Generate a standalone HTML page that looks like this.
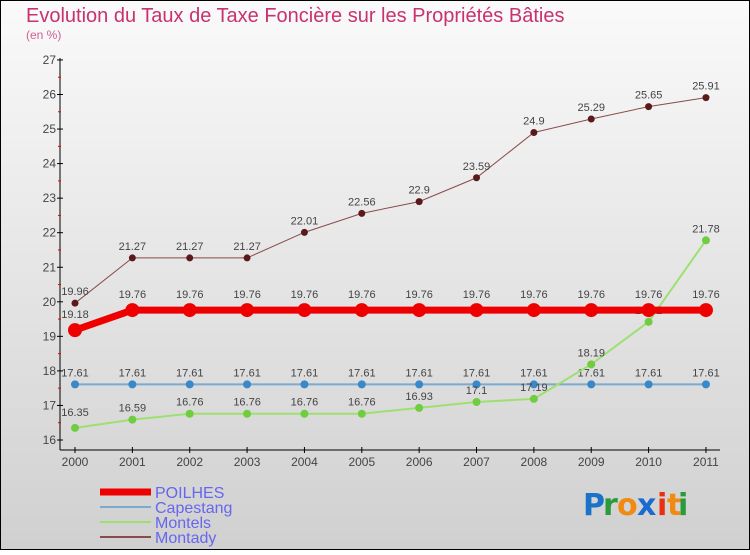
<!DOCTYPE html>
<html><head><meta charset="utf-8"><style>
body{margin:0;width:750px;height:550px;overflow:hidden;font-family:"Liberation Sans",sans-serif}
</style></head><body>
<svg id="c" width="750" height="550" xmlns="http://www.w3.org/2000/svg">
<defs><linearGradient id="bg" x1="0" y1="0" x2="0" y2="1"><stop offset="0" stop-color="#fafafa"/><stop offset="1" stop-color="#d0d0d0"/></linearGradient></defs>
<rect x="0.5" y="0.5" width="749" height="549" fill="url(#bg)" stroke="#000"/>
<text x="26" y="22" font-size="20" fill="#c8326e">Evolution du Taux de Taxe Foncière sur les Propriétés Bâties</text>
<text x="26" y="39" font-size="12" fill="#d06090">(en %)</text>
<g id="axes"></g><g id="series"></g><g id="legend"></g>
<g font-size="30" font-family="'DejaVu Sans',sans-serif" font-weight="bold">
<text x="583" y="515" fill="#1a73c8">P</text><text x="603" y="515" fill="#2a9a3a">r</text><text x="617" y="515" fill="#f08a10">o</text><text x="637" y="515" fill="#1a6ad0">x</text><text x="657" y="515" fill="#e83010">i</text><text x="667" y="515" fill="#f08a10">t</text><text x="678" y="515" fill="#2a9a3a">i</text>
</g>
</svg>
<script>
const years=[2000,2001,2002,2003,2004,2005,2006,2007,2008,2009,2010,2011];
const poilhes=[19.18,19.76,19.76,19.76,19.76,19.76,19.76,19.76,19.76,19.76,19.76,19.76];
const capestang=[17.61,17.61,17.61,17.61,17.61,17.61,17.61,17.61,17.61,17.61,17.61,17.61];
const montels=[16.35,16.59,16.76,16.76,16.76,16.76,16.93,17.1,17.19,18.19,19.42,21.78];
const montady=[19.96,21.27,21.27,21.27,22.01,22.56,22.9,23.59,24.9,25.29,25.65,25.91];
const yTicks=[16,17,18,19,20,21,22,23,24,25,26,27];
const NS="http://www.w3.org/2000/svg";
const X=i=>75+i*57.36, Y=v=>440-(v-16)*34.55;
function mk(p,t,a){const e=document.createElementNS(NS,t);for(const k in a)e.setAttribute(k,a[k]);p.appendChild(e);return e;}
const ax=document.getElementById('axes');
let l=mk(ax,'line',{x1:60,y1:58,x2:60,y2:450,stroke:'#000'});

l=mk(ax,'line',{x1:60,y1:450,x2:720,y2:450,stroke:'#000'});

yTicks.forEach((v,i)=>{mk(ax,'line',{x1:57,y1:Y(v),x2:63,y2:Y(v),stroke:'#000'});
 if(i<yTicks.length-1)mk(ax,'line',{x1:58,y1:Y(v+0.5),x2:61,y2:Y(v+0.5),stroke:'#e00'});
 const t=mk(ax,'text',{x:56,y:Y(v)+4,'text-anchor':'end','font-size':12,fill:'#444'});t.textContent=v;
 });
years.forEach((y,i)=>{mk(ax,'line',{x1:X(i),y1:447,x2:X(i),y2:453,stroke:'#000'});
 const t=mk(ax,'text',{x:X(i),y:466,'text-anchor':'middle','font-size':12,fill:'#444'});t.textContent=y;
 });
const sg=document.getElementById('series');
function series(name,d,col,w,r,fill,lab){
 const g=mk(sg,'g',{});
 mk(g,'polyline',{points:d.map((v,i)=>X(i)+','+Y(v)).join(' '),fill:'none',stroke:col,'stroke-width':w});
 d.forEach((v,i)=>{const c=mk(g,'circle',{cx:X(i),cy:Y(v),r:r,fill:fill});
  
  const t=mk(g,'text',{x:X(i),y:Y(v)-(lab?lab(i):8),'text-anchor':'middle','font-size':11,fill:'#444'});t.textContent=v;});
}
series('capestang',capestang,'#7aaad0',2,4,'#3a88c8');
series('montels',montels,'#9ee070',2,4,'#70cc40',i=>i==0?12:8);
series('montady',montady,'#8b4a4a',1,3.5,'#5a1a1a');
series('poilhes',poilhes,'#ee0000',7,7,'#ee0000',i=>12);
const lg=document.getElementById('legend');
[['POILHES','#ee0000',7],['Capestang','#7aaad0',2],['Montels','#9ee070',2],['Montady','#8b4a4a',2]].forEach((e,i)=>{
 const g=mk(lg,'g',{});
 const y=492+i*15;mk(g,'line',{x1:100,y1:y,x2:151,y2:y,stroke:e[1],'stroke-width':e[2]});
 const t=mk(g,'text',{x:155,y:y+6,'font-size':16,fill:'#6666ee'});t.textContent=e[0];});
</script>
</body></html>
